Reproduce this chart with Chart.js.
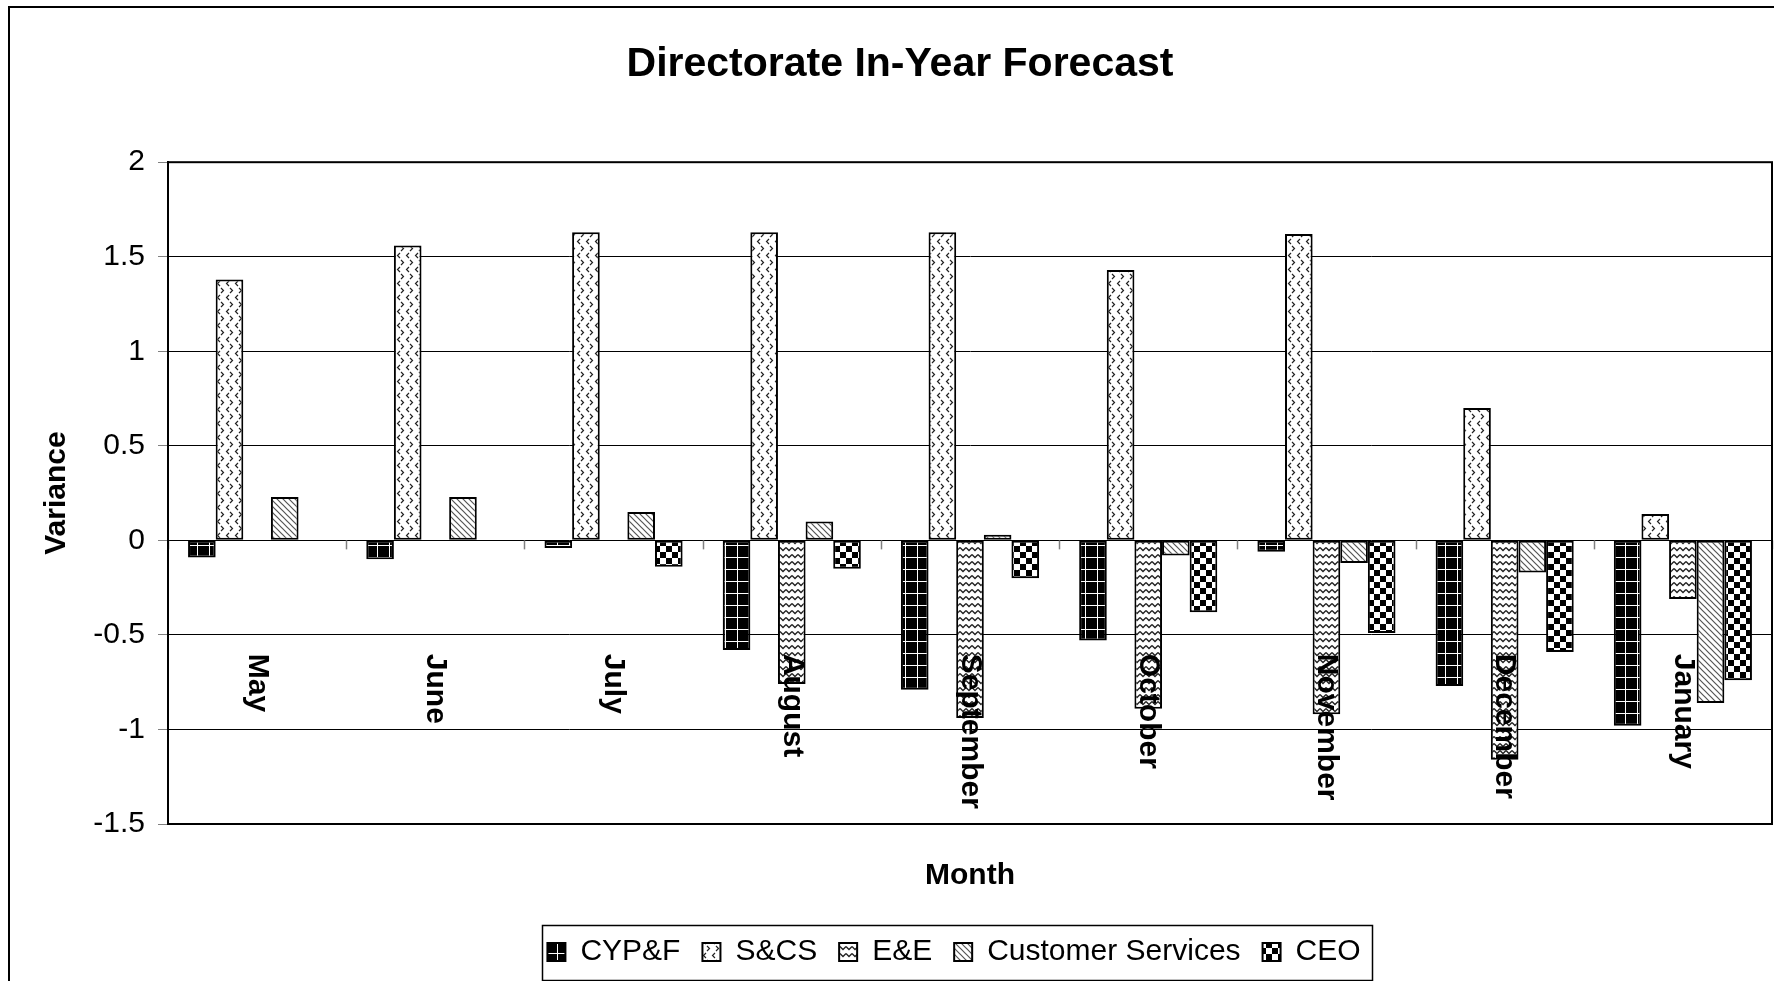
<!DOCTYPE html>
<html><head><meta charset="utf-8">
<script src="https://cdn.jsdelivr.net/npm/chart.js@4.4.0/dist/chart.umd.min.js"></script>
<style>html,body{margin:0;padding:0;background:#fff;overflow:hidden;}</style>
</head><body>
<canvas id="c" width="1774" height="981"></canvas>
<script>
const months = ['May','June','July','August','September','October','November','December','January'];
const seriesNames = ['CYP&F','S&CS','E&E','Customer Services','CEO'];
const cypf     = [-0.09,-0.10,-0.04,-0.58,-0.79,-0.53,-0.06,-0.77,-0.98];
const scs      = [1.38, 1.56, 1.63, 1.63, 1.63, 1.43, 1.62, 0.70, 0.14];
const ee       = [0, 0, 0, -0.76,-0.94,-0.89,-0.92,-1.16,-0.31];
const custServ = [0.23, 0.23, 0.15, 0.10, 0.03,-0.08,-0.12,-0.17,-0.86];
const ceo      = [0, 0, -0.14,-0.15,-0.20,-0.38,-0.49,-0.59,-0.74];
const yTicks   = [-1.5,-1,-0.5,0,0.5,1,1.5,2];

const FONT = "'Liberation Sans', Arial, Helvetica, sans-serif";
const LEGEND_SHIFT = -16;
const TITLE_SHIFT = 14;

function mkPattern(w,h,draw){
  const c=document.createElement('canvas');c.width=w;c.height=h;
  const g=c.getContext('2d');draw(g,w,h);
  return g.createPattern(c,'repeat');
}
const patCYPF = mkPattern(12,12,(g,w,h)=>{g.fillStyle='#000';g.fillRect(0,0,w,h);g.fillStyle='#fff';g.fillRect(5,0,1,h);g.fillRect(0,5,w,1);});
const patSCS = mkPattern(9,14,(g,w,h)=>{g.fillStyle='#fff';g.fillRect(0,0,w,h);g.strokeStyle='#222';g.lineWidth=1.2;
  g.beginPath();g.moveTo(4,1);g.lineTo(1.5,3.5);g.lineTo(4,6);g.moveTo(5,8);g.lineTo(7.5,10.5);g.lineTo(5,13);g.stroke();});
const patEE = mkPattern(6,7,(g,w,h)=>{g.fillStyle='#fff';g.fillRect(0,0,w,h);g.strokeStyle='#222';g.lineWidth=1.3;
  g.beginPath();g.moveTo(0,1.5);g.lineTo(3,4.5);g.lineTo(6,1.5);g.stroke();});
const patCS = mkPattern(6,6,(g,w,h)=>{g.fillStyle='#fff';g.fillRect(0,0,w,h);g.strokeStyle='#555';g.lineWidth=1.2;
  g.beginPath();g.moveTo(0,0);g.lineTo(6,6);g.moveTo(-1,5);g.lineTo(1,7);g.moveTo(5,-1);g.lineTo(7,1);g.stroke();});
const patCEO = mkPattern(12,12,(g,w,h)=>{g.fillStyle='#fff';g.fillRect(0,0,w,h);g.fillStyle='#000';g.fillRect(0,0,6,6);g.fillRect(6,6,6,6);});

const seriesData = [cypf, scs, ee, custServ, ceo];
const seriesFill = [patCYPF, patSCS, patEE, patCS, patCEO];

const framePlugin = {
  id:'frame',
  beforeDraw(chart){
    const ctx=chart.ctx;ctx.save();ctx.fillStyle='#fff';ctx.fillRect(0,0,chart.width,chart.height);
    ctx.strokeStyle='#000';ctx.lineWidth=2;ctx.strokeRect(9,7,chart.width+10,chart.height+10);ctx.restore();
    if(chart.legend && !chart.legend._shifted){chart.legend.left+=LEGEND_SHIFT;chart.legend.right+=LEGEND_SHIFT;chart.legend._shifted=true;}
    if(chart.titleBlock && !chart.titleBlock._shifted){chart.titleBlock.left+=TITLE_SHIFT;chart.titleBlock.right+=TITLE_SHIFT;chart.titleBlock._shifted=true;}
  },
  beforeDatasetsDraw(chart){
    const ctx=chart.ctx, xs=chart.scales.x, ys=chart.scales.y;
    const y0=ys.getPixelForValue(0);
    const step=xs.getPixelForValue(1)-xs.getPixelForValue(0);
    ctx.save();ctx.strokeStyle='#808080';ctx.lineWidth=1.5;
    for(let i=0;i<=months.length;i++){
      const x=Math.round(xs.getPixelForValue(0)-step/2+i*step)+0.5;
      ctx.beginPath();ctx.moveTo(x,y0);ctx.lineTo(x,y0+9);ctx.stroke();
    }
    ctx.restore();
  },
  afterDraw(chart){
    const ctx=chart.ctx, a=chart.chartArea, xs=chart.scales.x, ys=chart.scales.y;
    ctx.save();
    ctx.strokeStyle='#000';ctx.lineWidth=2;
    ctx.strokeRect(a.left,a.top,a.right-a.left,a.bottom-a.top);
    ctx.fillStyle='#000';ctx.font="bold 30px "+FONT;ctx.textAlign='left';ctx.textBaseline='middle';
    const ly=ys.getPixelForValue(-0.6);
    months.forEach((m,i)=>{
      const x=xs.getPixelForValue(i);
      ctx.save();ctx.translate(x,ly);ctx.rotate(Math.PI/2);ctx.fillText(m,0,0);ctx.restore();
    });
    const lg=chart.legend;
    if(lg && lg.legendHitBoxes && lg.legendHitBoxes.length){
      const hb=lg.legendHitBoxes;
      const l=hb[0].left-5+LEGEND_SHIFT, r=hb[hb.length-1].left+hb[hb.length-1].width+12+LEGEND_SHIFT;
      const cy=hb[0].top+hb[0].height/2;
      ctx.lineWidth=1.5;ctx.strokeStyle='#000';
      ctx.strokeRect(Math.round(l)+0.5,Math.round(cy-27)+0.5,Math.round(r-l),55);
    }
    ctx.restore();
  }
};

new Chart(document.getElementById('c'),{
  type:'bar',
  data:{
    labels:months,
    datasets:seriesNames.map((n,i)=>({
      label:n, data:seriesData[i], backgroundColor:seriesFill[i],
      borderColor:'#000', borderWidth:2, borderSkipped:false,
      categoryPercentage:0.775, barPercentage:1.0
    }))
  },
  options:{
    responsive:false, animation:false, devicePixelRatio:1,
    layout:{padding:{left:0,right:2,top:0,bottom:4}},
    plugins:{
      title:{display:true,text:'Directorate In-Year Forecast',color:'#000',
        font:{family:FONT,size:41,weight:'bold'},padding:{top:40,bottom:73}},
      legend:{position:'bottom',fullSize:false,
        labels:{color:'#000',font:{family:FONT,size:30},boxWidth:18,boxHeight:18,padding:22}},
      tooltip:{enabled:false}
    },
    scales:{
      x:{
        offset:true,
        ticks:{display:false},
        grid:{display:false,drawTicks:false},
        border:{display:true,color:'#000',width:2},
        title:{display:true,text:'Month',color:'#000',font:{family:FONT,size:30,weight:'bold'},padding:{top:0,bottom:21}},
        afterFit(s){s.height=91;}
      },
      y:{
        min:-1.5,max:2,
        afterBuildTicks(s){s.ticks=yTicks.map(v=>({value:v}));},
        ticks:{color:'#000',font:{family:FONT,size:30},padding:13,callback:v=>String(v)},
        grid:{color:'#000',lineWidth:1,tickLength:10,tickColor:'#808080'},
        border:{display:true,color:'#000',width:2},
        title:{display:true,text:'Variance',color:'#000',font:{family:FONT,size:30,weight:'bold'},padding:{top:39,bottom:0}},
        afterFit(s){s.width=168;}
      }
    }
  },
  plugins:[framePlugin]
});
</script>
</body></html>
